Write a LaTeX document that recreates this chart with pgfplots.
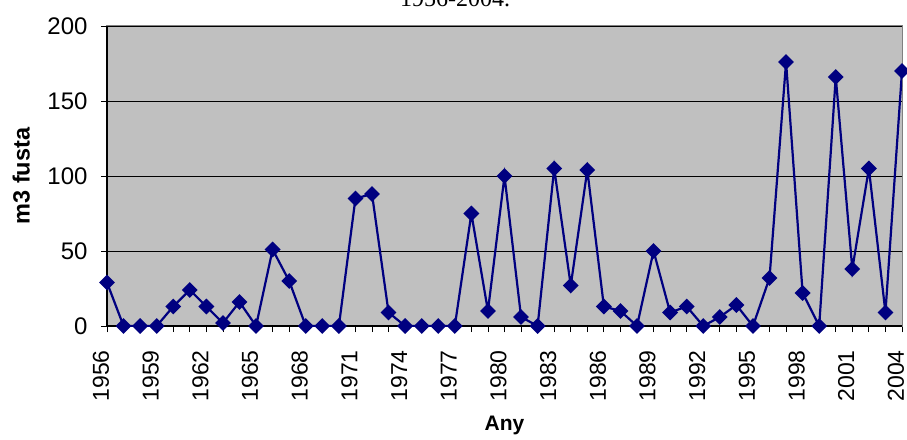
\documentclass[border=0pt]{standalone}
\usepackage{fontspec}
\setmainfont{Liberation Sans}
\newfontfamily\serif{Liberation Serif}
\usepackage{pgfplots}
\pgfplotsset{compat=1.18}
\usepackage{pgfplotstable}

\definecolor{navy}{RGB}{0,0,128}
\definecolor{plotgray}{RGB}{192,192,192}

\pgfplotstableread{
any fusta
1956 29
1957 0
1958 0
1959 0
1960 13
1961 24
1962 13
1963 2
1964 16
1965 0
1966 51
1967 30
1968 0
1969 0
1970 0
1971 85
1972 88
1973 9
1974 0
1975 0
1976 0
1977 0
1978 75
1979 10
1980 100
1981 6
1982 0
1983 105
1984 27
1985 104
1986 13
1987 10
1988 0
1989 50
1990 9
1991 13
1992 0
1993 6
1994 14
1995 0
1996 32
1997 176
1998 22
1999 0
2000 166
2001 38
2002 105
2003 9
2004 170
}\fusta

\begin{document}
\begin{tikzpicture}
\begin{axis}[
  scale only axis, width=795pt, height=300pt,
  xmin=1956, xmax=2004, ymin=0, ymax=200,
  xtick={1956,1959,...,2004},
  minor xtick={1956,...,2004},
  ytick={0,50,...,200},
  xtick pos=bottom, ytick pos=left,
  tick align=outside,
  major tick length=6pt, minor tick length=6pt,
  tick style={black, line width=0.8pt},
  ymajorgrids, grid style={black, line width=0.8pt},
  axis line style={color=gray, line width=1pt},
  axis background/.style={fill=plotgray},
  /pgf/number format/1000 sep={},
  /pgf/number format/assume math mode=true,
  yticklabel style={font=\fontsize{24}{28}\selectfont, xshift=-10pt},
  xticklabel style={font=\fontsize{23}{27}\selectfont, inner sep=1pt, xshift=-6pt, yshift=-17pt, rotate=90, anchor=east},
  every axis y label/.style={at={(axis description cs:-0.108,0.5)}, anchor=center, rotate=90, font=\fontsize{23.5}{27}\selectfont\bfseries},
  every axis x label/.style={at={(axis description cs:0.5,-0.33)}, anchor=center, font=\fontsize{21}{25}\selectfont\bfseries},
  ylabel={m3 fusta}, xlabel={Any},
  clip mode=individual,
]
\draw[black, line width=1.5pt] (rel axis cs:0,1) -- (rel axis cs:0,0) -- (rel axis cs:1,0);
\addplot[navy, line width=2.2pt, mark=square*, mark size=4.5pt,
  mark options={rotate=45, solid, fill=navy}] table[x=any, y=fusta] {\fusta};
\end{axis}
\node[overlay, anchor=base, font=\serif\fontsize{24}{28}\selectfont] at (348pt,319pt) {1956-2004.};
\pgfresetboundingbox
\useasboundingbox (-107pt,-113pt) rectangle (800pt,326pt);
\end{tikzpicture}
\end{document}
